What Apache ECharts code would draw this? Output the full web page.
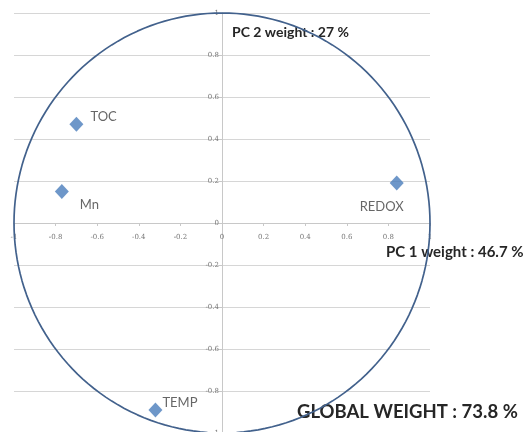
<!DOCTYPE html>
<html>
<head>
<meta charset="utf-8">
<script src="https://cdn.jsdelivr.net/npm/echarts@6/dist/echarts.min.js"></script>
<style>html,body{margin:0;padding:0;background:#fff;}#c{width:525px;height:432px;}</style>
</head>
<body>
<div id="c"></div>
<script>
var variables = ['TOC', 'Mn', 'REDOX', 'TEMP'];
var pc1 = [-0.70, -0.77, 0.84, -0.32];
var pc2 = [0.47, 0.15, 0.19, -0.89];
var labelOffsets = {
  TOC: {position: 'right', offset: [2, -7]},
  Mn: {position: 'right', offset: [6, 13]},
  REDOX: {position: 'bottom', offset: [-15, 5]},
  TEMP: {position: 'right', offset: [-5, -7]}
};
var pc1Weight = '46.7 %';
var pc2Weight = '27 %';
var globalWeight = '73.8 %';

// unit correlation circle (reference geometry, not data)
var circle = [];
for (var a = 0; a <= 360; a += 2) {
  var r = a * Math.PI / 180;
  circle.push([Math.cos(r), Math.sin(r)]);
}

var points = variables.map(function (name, i) {
  var lo = labelOffsets[name];
  return {
    name: name,
    value: [pc1[i], pc2[i]],
    label: {show: true, position: lo.position, offset: lo.offset, formatter: name}
  };
});

var chart = echarts.init(document.getElementById('c'));
var fontFam = 'Lato, "Open Sans", sans-serif';
var fmt = function (v) { return String(Math.round(v * 10) / 10); };
chart.setOption({
  animation: false,
  backgroundColor: '#ffffff',
  grid: {left: 14, top: 13, width: 416, height: 420, containLabel: false, outerBoundsMode: 'none'},
  xAxis: {
    type: 'value', min: -1, max: 1, interval: 0.2,
    position: 'bottom', offset: -210,
    axisLine: {onZero: false, lineStyle: {color: '#c8c8c8', width: 1}},
    axisTick: {show: true, length: 3, lineStyle: {color: '#c8c8c8'}},
    splitLine: {show: false},
    axisLabel: {fontSize: 7, color: '#777', margin: 11, fontFamily: 'DejaVu Serif, serif',
      showMinLabel: true, showMaxLabel: true, formatter: fmt}
  },
  yAxis: {
    type: 'value', min: -1, max: 1, interval: 0.2,
    position: 'left', offset: -208,
    axisLine: {onZero: false, lineStyle: {color: '#c8c8c8', width: 1}},
    axisTick: {show: true, length: 3, lineStyle: {color: '#c8c8c8'}},
    splitLine: {show: true, lineStyle: {color: '#d6d6d6', width: 1}},
    axisLabel: {fontSize: 7, color: '#777', margin: 3, fontFamily: 'DejaVu Serif, serif',
      showMinLabel: true, showMaxLabel: true, formatter: fmt}
  },
  series: [
    {
      type: 'line', data: circle, showSymbol: false, silent: true, clip: false,
      lineStyle: {color: '#42618c', width: 1.7}, z: 3
    },
    {
      type: 'scatter', data: points, symbol: 'diamond', symbolSize: [14, 15],
      itemStyle: {color: '#4a7dbb'},
      label: {color: '#404040', fontSize: 13, fontFamily: fontFam},
      z: 4
    }
  ],
  graphic: [
    {type: 'text', left: 232, top: 25, style: {text: 'PC 2 weight : ' + pc2Weight, font: 'bold 14px ' + fontFam, fill: '#262626'}},
    {type: 'text', left: 386, top: 245, style: {text: 'PC 1 weight : ' + pc1Weight, font: 'bold 15px ' + fontFam, fill: '#262626'}},
    {type: 'text', left: 297, top: 403, style: {text: 'GLOBAL WEIGHT : ' + globalWeight, font: 'bold 18.5px ' + fontFam, fill: '#262626'}}
  ]
});
</script>
</body>
</html>
